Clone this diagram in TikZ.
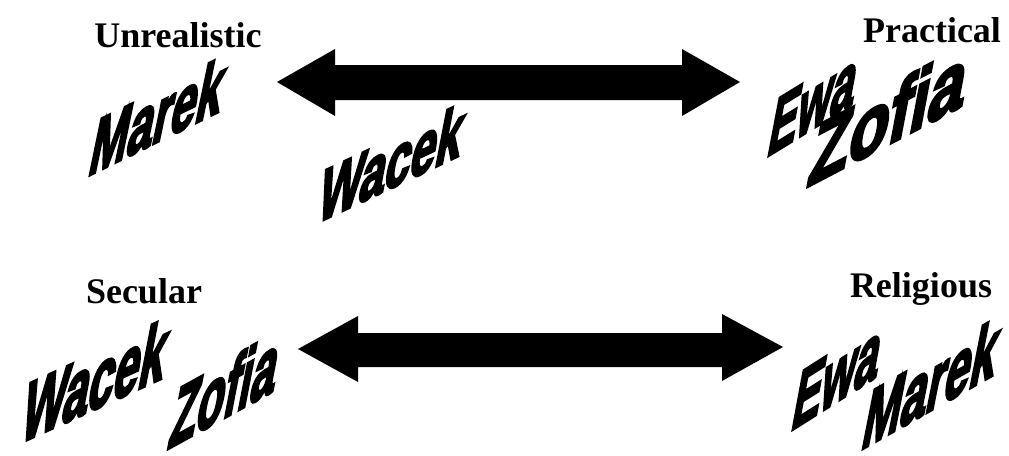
\documentclass[tikz,border=0pt]{standalone}
\usepackage{fontspec}
\setmainfont{Liberation Serif}
\newfontfamily\wafont{Liberation Sans Bold}[FakeBold=4]
\begin{document}
\begin{tikzpicture}[x=1pt,y=-1pt,
  lbl/.style={font=\fontsize{36}{36}\selectfont\bfseries, inner sep=0pt, anchor=base},
  wa/.style={font=\wafont\fontsize{20}{20}\selectfont, inner sep=0pt, anchor=base west}]
\useasboundingbox[fill=white] (0,0) rectangle (1009,455);

% labels
\node[lbl] (unreal) at (178,47) {Unrealistic};
\node[lbl] (pract) at (932,42) {Practical};
\node[lbl] (secul) at (144,303) {Secular};
\node[lbl] (relig) at (921,297) {Religious};

% arrows
\fill (277,82) -- (335,49) -- (335,65) -- (682,65) -- (682,49) -- (740,82)
  -- (682,116) -- (682,100) -- (335,100) -- (335,116) -- cycle;
\fill (298,349) -- (358,316) -- (358,333) -- (722,333) -- (722,314) -- (783,347)
  -- (722,381) -- (722,367) -- (358,367) -- (358,382) -- cycle;

% slanted names
\begin{scope}[shift={(86,177)}]
  \node[wa,cm={2.28,1.12,0.85,4.10,(0,0)}] (marekA) at (0,0) {Marek};
\end{scope}
\begin{scope}[shift={(315,224)}]
  \node[wa,cm={2.28,1.08,0.75,3.90,(0,0)}] (wacekA) at (0,0) {Wacek};
\end{scope}
\begin{scope}[shift={(765,158)}]
  \node[wa,cm={2.15,1.32,0.80,4.20,(0,0)}] (ewaA) at (0,0) {Ewa};
\end{scope}
\begin{scope}[shift={(805,188)}]
  \node[wa,cm={3.25,1.70,0.85,4.50,(0,0)}] (zofiaA) at (0,0) {Zofia};
\end{scope}
\begin{scope}[shift={(18,444)}]
  \node[wa,cm={2.28,1.04,0.85,4.40,(0,0)}] (wacekB) at (0,0) {Wacek};
\end{scope}
\begin{scope}[shift={(166,450)}]
  \node[wa,cm={2.22,1.22,0.85,4.40,(0,0)}] (zofiaB) at (0,0) {Zofia};
\end{scope}
\begin{scope}[shift={(789,432)}]
  \node[wa,cm={2.15,1.36,0.80,4.30,(0,0)}] (ewaB) at (0,0) {Ewa};
\end{scope}
\begin{scope}[shift={(859,451)}]
  \node[wa,cm={2.30,1.30,0.85,4.30,(0,0)}] (marekB) at (0,0) {Marek};
\end{scope}
\end{tikzpicture}
\end{document}
